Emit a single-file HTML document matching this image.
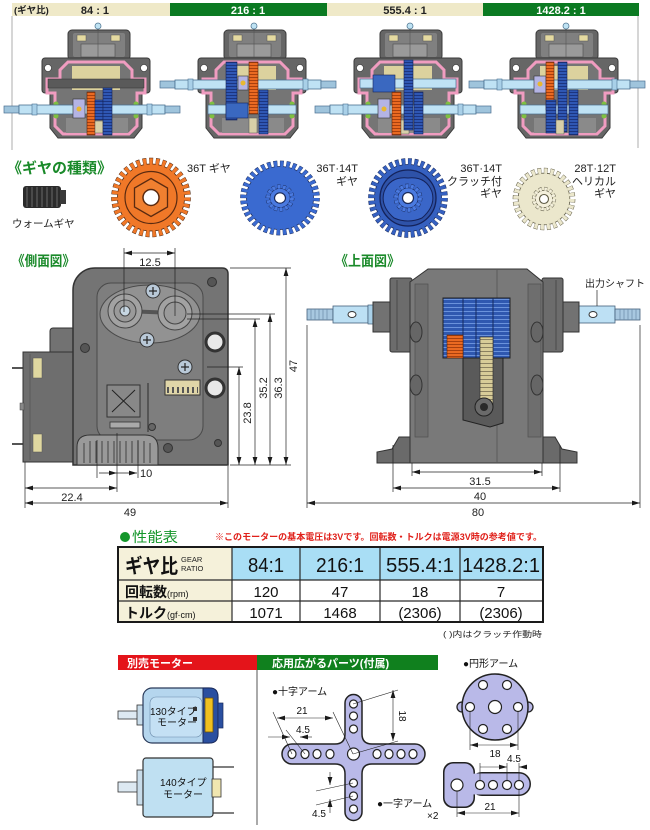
<!DOCTYPE html>
<html><head><meta charset="utf-8">
<style>
html,body{margin:0;padding:0;background:#fff;}
svg{display:block;}
text{font-family:"Liberation Sans","Noto Sans CJK JP",sans-serif;}
</style></head><body>
<svg width="650" height="830" viewBox="0 0 650 830" xmlns="http://www.w3.org/2000/svg">
<defs>
<marker id="ar" viewBox="0 0 10 6" refX="10" refY="3" markerWidth="8" markerHeight="4.8" markerUnits="userSpaceOnUse" orient="auto-start-reverse"><path d="M0,0 L10,3 L0,6 z" fill="#1a1a1a"/></marker>
<pattern id="pb" width="6" height="3" patternUnits="userSpaceOnUse"><rect width="6" height="3" fill="#2f57b4"/><rect y="2" width="6" height="1" fill="#1c3580"/></pattern>
<pattern id="po" width="6" height="3" patternUnits="userSpaceOnUse"><rect width="6" height="3" fill="#ea6a22"/><rect y="2" width="6" height="1" fill="#a8400e"/></pattern>
<pattern id="pb2" width="6" height="4" patternUnits="userSpaceOnUse"><rect width="6" height="4" fill="#2f58b0"/><rect y="3" width="6" height="1" fill="#6a92dc"/></pattern>
<pattern id="pbe" width="6" height="4" patternUnits="userSpaceOnUse"><rect width="6" height="4" fill="#d8cc98"/><rect y="3" width="6" height="1" fill="#8a8060"/></pattern>
<g id="box">
 <line x1="0" y1="28" x2="0" y2="31" stroke="#444"/>
 <circle cx="0" cy="26" r="3" fill="#bfe3f4" stroke="#557a95" stroke-width="0.8"/>
 <rect x="-30" y="30" width="62" height="30" rx="4" fill="#666" stroke="#3a3a3a"/>
 <rect x="-25" y="33" width="52" height="24" rx="2" fill="#808080"/>
 <rect x="-21" y="35" width="9" height="6" fill="#e4d9a0" stroke="#555" stroke-width="0.5"/>
 <rect x="13" y="35" width="9" height="6" fill="#e4d9a0" stroke="#555" stroke-width="0.5"/>
 <rect x="-17" y="44" width="34" height="13" fill="#9a9a9a" stroke="#555" stroke-width="0.7"/>
 <line x1="0" y1="31" x2="0" y2="60" stroke="#555" stroke-width="0.6"/>
 <rect x="-56" y="58" width="108" height="35" rx="3" fill="#666" stroke="#3a3a3a"/>
 <path d="M-48,92 L44,92 L44,128 L36,138 L-40,138 L-48,128 Z" fill="#666" stroke="#3a3a3a"/>
 <path d="M-30,62 L26,62 L34,70 L34,79 L47,79 L47,93 L39,93 L39,126 L31,134 L-35,134 L-43,126 L-43,93 L-51,93 L-51,79 L-38,79 L-38,70 Z" fill="#757575" stroke="#f09cc0" stroke-width="3"/>
 <circle cx="-50" cy="68" r="3.5" fill="#fff" stroke="#333" stroke-width="0.6"/>
 <circle cx="46" cy="68" r="3.5" fill="#fff" stroke="#333" stroke-width="0.6"/>
 <rect x="-26" y="66" width="48" height="24" fill="#dcd29e"/>
 <rect x="-32" y="118" width="62" height="15" fill="#8a8a8a"/>
 <circle cx="-42" cy="104" r="2.5" fill="#7fc040"/>
 <circle cx="-42" cy="116" r="2.5" fill="#7fc040"/>
 <circle cx="38" cy="104" r="2.5" fill="#7fc040"/>
 <circle cx="38" cy="116" r="2.5" fill="#7fc040"/>
</g>
<g id="shaft">
 <rect x="0" y="1" width="15" height="7" fill="#9fc4dc" stroke="#4a7090" stroke-width="0.7"/>
 <rect x="15" y="0" width="146" height="9" fill="#bfe2f4" stroke="#4a7090" stroke-width="0.8"/>
 <rect x="28" y="-1" width="5" height="11" fill="#a9d0e8" stroke="#4a7090" stroke-width="0.6"/>
 <rect x="143" y="-1" width="5" height="11" fill="#a9d0e8" stroke="#4a7090" stroke-width="0.6"/>
 <rect x="161" y="1" width="15" height="7" fill="#9fc4dc" stroke="#4a7090" stroke-width="0.7"/>
</g>
</defs>

<!-- ===== Header ===== -->
<rect x="12" y="3" width="158" height="13" fill="#efe9c8"/>
<rect x="170" y="3" width="157" height="13" fill="#0b7a22"/>
<rect x="327" y="3" width="156" height="13" fill="#efe9c8"/>
<rect x="483" y="3" width="156" height="13" fill="#0b7a22"/>
<text x="14" y="13.5" font-size="9.5" font-weight="bold" fill="#222">(ギヤ比)</text>
<text x="95" y="14" font-size="11" font-weight="bold" fill="#222" text-anchor="middle">84 : 1</text>
<text x="248" y="14" font-size="11" font-weight="bold" fill="#fff" text-anchor="middle">216 : 1</text>
<text x="405" y="14" font-size="11" font-weight="bold" fill="#222" text-anchor="middle">555.4 : 1</text>
<text x="561" y="14" font-size="11" font-weight="bold" fill="#fff" text-anchor="middle">1428.2 : 1</text>
<line x1="12" y1="16" x2="12" y2="150" stroke="#999" stroke-width="0.8"/>
<line x1="638" y1="16" x2="638" y2="148" stroke="#999" stroke-width="0.8"/>

<!-- ===== Gearboxes ===== -->
<use href="#box" x="98"/>
<use href="#box" x="254"/>
<use href="#box" x="410"/>
<use href="#box" x="566"/>

<g transform="translate(98,0)">
 <rect x="-50" y="79" width="96" height="9" fill="#5a5a5a" stroke="#333" stroke-width="0.5"/>
</g>
<use href="#shaft" x="4" y="105"/>
<g transform="translate(98,0)">
 <rect x="-25" y="99" width="12" height="19" fill="#b4b4e4" stroke="#333" stroke-width="0.6"/>
 <circle cx="-19" cy="109" r="2.5" fill="#e8b830"/>
 <rect x="-11" y="92" width="8" height="43" fill="url(#po)" stroke="#5a2810" stroke-width="0.6"/>
 <rect x="-3" y="100" width="8" height="20" fill="url(#pb)" stroke="#14245a" stroke-width="0.5"/>
 <rect x="-3" y="121" width="8" height="12" fill="#d8d0a8" stroke="#555" stroke-width="0.5"/>
 <rect x="5" y="88" width="9" height="47" fill="url(#pb)" stroke="#14245a" stroke-width="0.6"/>
</g>

<g transform="translate(254,0)">
 <rect x="-46" y="105" width="88" height="9" fill="#bfe2f4" stroke="#4a7090" stroke-width="0.7"/>
</g>
<use href="#shaft" x="160" y="80"/>
<g transform="translate(254,0)">
 <rect x="-28" y="62" width="11" height="58" fill="url(#pb)" stroke="#14245a" stroke-width="0.6"/>
 <rect x="-28" y="103" width="22" height="15" fill="#3a68c0" stroke="#14245a" stroke-width="0.6"/>
 <rect x="-16" y="76" width="10" height="14" fill="#b4b4e4" stroke="#333" stroke-width="0.6"/>
 <circle cx="-11" cy="83" r="2.5" fill="#e8b830"/>
 <rect x="-5" y="62" width="9" height="52" fill="url(#po)" stroke="#5a2810" stroke-width="0.6"/>
 <rect x="-5" y="118" width="8" height="15" fill="#d8d0a8" stroke="#555" stroke-width="0.5"/>
 <rect x="5" y="90" width="9" height="44" fill="url(#pb)" stroke="#14245a" stroke-width="0.6"/>
</g>

<g transform="translate(410,0)">
 <rect x="-50" y="79" width="96" height="9" fill="#bfe2f4" stroke="#4a7090" stroke-width="0.7"/>
 <rect x="-37" y="75" width="22" height="17" fill="#3a68c0" stroke="#14245a" stroke-width="0.6"/>
</g>
<use href="#shaft" x="315" y="105"/>
<g transform="translate(410,0)">
 <rect x="-32" y="99" width="12" height="19" fill="#b4b4e4" stroke="#333" stroke-width="0.6"/>
 <circle cx="-26" cy="109" r="2.5" fill="#e8b830"/>
 <rect x="-18" y="92" width="9" height="43" fill="url(#po)" stroke="#5a2810" stroke-width="0.6"/>
 <rect x="-9" y="120" width="8" height="14" fill="#d8d0a8" stroke="#555" stroke-width="0.5"/>
 <rect x="-6" y="60" width="9" height="70" fill="url(#pb)" stroke="#14245a" stroke-width="0.6"/>
 <rect x="4" y="92" width="9" height="42" fill="url(#pb)" stroke="#14245a" stroke-width="0.6"/>
</g>

<g transform="translate(566,0)">
 <rect x="-46" y="105" width="88" height="9" fill="#bfe2f4" stroke="#4a7090" stroke-width="0.7"/>
</g>
<use href="#shaft" x="469" y="80"/>
<g transform="translate(566,0)">
 <rect x="-32" y="76" width="12" height="17" fill="#b4b4e4" stroke="#333" stroke-width="0.6"/>
 <circle cx="-26" cy="84" r="2.5" fill="#e8b830"/>
 <rect x="-20" y="62" width="8" height="48" fill="url(#po)" stroke="#5a2810" stroke-width="0.6"/>
 <rect x="-20" y="100" width="10" height="33" fill="url(#pb)" stroke="#14245a" stroke-width="0.6"/>
 <rect x="-8" y="62" width="9" height="70" fill="url(#pb)" stroke="#14245a" stroke-width="0.6"/>
 <rect x="-10" y="120" width="8" height="14" fill="#d8d0a8" stroke="#555" stroke-width="0.5"/>
 <rect x="3" y="90" width="9" height="45" fill="url(#pb)" stroke="#14245a" stroke-width="0.6"/>
</g>

<!-- ===== Gear types ===== -->
<text x="7" y="173" font-size="15" font-weight="bold" fill="#1a8a2a" textLength="105" lengthAdjust="spacingAndGlyphs">《ギヤの種類》</text>
<rect x="23" y="186" width="38" height="22" rx="3" fill="#2b2b2b"/>
<rect x="60" y="190" width="6" height="14" fill="#3a3a3a"/>
<g stroke="#6a6a6a" stroke-width="1">
<line x1="27" y1="187" x2="27" y2="207"/><line x1="32" y1="187" x2="32" y2="207"/><line x1="37" y1="187" x2="37" y2="207"/><line x1="42" y1="187" x2="42" y2="207"/><line x1="47" y1="187" x2="47" y2="207"/><line x1="52" y1="187" x2="52" y2="207"/><line x1="57" y1="187" x2="57" y2="207"/>
</g>
<text x="12" y="227" font-size="10.5" fill="#222">ウォームギヤ</text>

<g transform="translate(151,197.5)">
 <circle r="33.5" fill="#f07828" stroke="#4a2510" stroke-width="0.8"/>
 <circle r="36" fill="none" stroke="#4a2510" stroke-width="7.6" stroke-dasharray="3.829 2.629" stroke-dashoffset="0.3"/>
 <circle r="36" fill="none" stroke="#f07828" stroke-width="6.6" stroke-dasharray="3.229 3.229"/>
 <circle r="33" fill="#f07828"/>
 <circle r="26" fill="none" stroke="#5a2a10" stroke-width="1.2"/>
 <polygon points="0,-19 16.5,-9.5 16.5,9.5 0,19 -16.5,9.5 -16.5,-9.5" fill="#f08030" stroke="#5a2a10" stroke-width="1.3"/>
 <circle r="8" fill="#fff" stroke="#5a2a10" stroke-width="1.5"/>
</g>
<text x="187" y="172" font-size="11" fill="#222">36T ギヤ</text>

<g transform="translate(280,198) scale(1,0.94)">
 <circle r="33.5" fill="#3a6ad0" stroke="#1a2a5a" stroke-width="0.8"/>
 <circle r="36" fill="none" stroke="#1a2a5a" stroke-width="7.6" stroke-dasharray="3.741 2.541" stroke-dashoffset="0.3"/>
 <circle r="36" fill="none" stroke="#3a6ad0" stroke-width="6.6" stroke-dasharray="3.141 3.141"/>
 <circle r="33" fill="#3a6ad0"/>
 <circle r="10" fill="#4a7ae0" stroke="#1a2a5a" stroke-width="1"/>
 <circle r="12" fill="none" stroke="#1a2a5a" stroke-width="4.8" stroke-dasharray="3.09 2.29" stroke-dashoffset="0.2"/>
 <circle r="12" fill="none" stroke="#4a7ae0" stroke-width="3.8" stroke-dasharray="2.69 2.69"/>
 <circle r="9.8" fill="#4a7ae0"/>
 <circle r="5.5" fill="#fff" stroke="#1a2a5a" stroke-width="1.2"/>
</g>
<text x="358" y="172" font-size="11" fill="#222" text-anchor="end">36T·14T</text>
<text x="358" y="185" font-size="11" fill="#222" text-anchor="end">ギヤ</text>

<g transform="translate(408,198)">
 <circle r="33.5" fill="#3560c0" stroke="#1a2a5a" stroke-width="0.8"/>
 <circle r="36" fill="none" stroke="#1a2a5a" stroke-width="7.6" stroke-dasharray="3.741 2.541" stroke-dashoffset="0.3"/>
 <circle r="36" fill="none" stroke="#3560c0" stroke-width="6.6" stroke-dasharray="3.141 3.141"/>
 <circle r="33" fill="#3560c0"/>
 <circle r="28" fill="#2e52a8" stroke="#14225a" stroke-width="1.3"/>
 <path d="M-24,-6 Q-18,-22 0,-20 Q18,-22 24,-6 Q28,8 14,20 Q0,26 -14,20 Q-28,8 -24,-6 Z" fill="#3a66c8" stroke="#14225a" stroke-width="1"/>
 <circle r="10" fill="#4a7ae0" stroke="#1a2a5a" stroke-width="1"/>
 <circle r="12" fill="none" stroke="#1a2a5a" stroke-width="4.8" stroke-dasharray="3.09 2.29" stroke-dashoffset="0.2"/>
 <circle r="12" fill="none" stroke="#4a7ae0" stroke-width="3.8" stroke-dasharray="2.69 2.69"/>
 <circle r="9.8" fill="#4a7ae0"/>
 <circle r="5.5" fill="#fff" stroke="#1a2a5a" stroke-width="1.2"/>
</g>
<text x="502" y="172" font-size="11" fill="#222" text-anchor="end">36T·14T</text>
<text x="502" y="185" font-size="11" fill="#222" text-anchor="end">クラッチ付</text>
<text x="502" y="197" font-size="11" fill="#222" text-anchor="end">ギヤ</text>

<g transform="translate(544,199)">
 <circle r="25.8" fill="#ebe7cc" stroke="#5e5a44" stroke-width="0.8"/>
 <circle r="28" fill="none" stroke="#5e5a44" stroke-width="6.6" stroke-dasharray="3.741 2.541" stroke-dashoffset="0.3"/>
 <circle r="28" fill="none" stroke="#ebe7cc" stroke-width="5.6" stroke-dasharray="3.141 3.141"/>
 <circle r="25.3" fill="#ebe7cc"/>
 <circle r="8.5" fill="#f4f0dc" stroke="#5e5a44" stroke-width="1"/>
 <circle r="10" fill="none" stroke="#5e5a44" stroke-width="4.2" stroke-dasharray="3.02 2.22" stroke-dashoffset="0.2"/>
 <circle r="10" fill="none" stroke="#f4f0dc" stroke-width="3.2" stroke-dasharray="2.62 2.62"/>
 <circle r="8.3" fill="#f4f0dc"/>
 <circle r="4.5" fill="#fff" stroke="#5e5a44" stroke-width="1.1"/>
</g>
<text x="616" y="172" font-size="11" fill="#222" text-anchor="end">28T·12T</text>
<text x="616" y="185" font-size="11" fill="#222" text-anchor="end">ヘリカル</text>
<text x="616" y="197" font-size="11" fill="#222" text-anchor="end">ギヤ</text>

<!-- ===== Side view ===== -->
<text x="12" y="266" font-size="14" font-weight="bold" fill="#1a8a2a" textLength="63" lengthAdjust="spacingAndGlyphs">《側面図》</text>
<line x1="12" y1="368" x2="24" y2="368" stroke="#555" stroke-width="2"/>
<line x1="12" y1="444" x2="24" y2="444" stroke="#555" stroke-width="2"/>
<rect x="50" y="328" width="25" height="30" rx="3" fill="#727272" stroke="#333"/>
<rect x="23" y="352" width="52" height="110" fill="#6e6e6e" stroke="#333"/>
<line x1="30" y1="354" x2="30" y2="460" stroke="#555" stroke-width="0.8"/>
<rect x="33" y="358" width="9" height="20" fill="#e0d8a0" stroke="#555" stroke-width="0.5"/>
<rect x="33" y="434" width="9" height="18" fill="#e0d8a0" stroke="#555" stroke-width="0.5"/>
<rect x="20" y="403" width="4" height="7" fill="#888" stroke="#444" stroke-width="0.5"/>
<path d="M95,268 L222,268 Q228,268 228,274 L228,465 L73,465 L73,290 A22,22 0 0 1 95,268 Z" fill="#747474" stroke="#333" stroke-width="1.5"/>
<rect x="97" y="283" width="106" height="157" rx="14" fill="#7e7e7e" stroke="#4a4a4a"/>
<ellipse cx="150" cy="314" rx="50" ry="29" fill="#929292" stroke="#4a4a4a"/>
<line x1="125" y1="311" x2="175" y2="313" stroke="#555" stroke-width="4"/>
<circle cx="125" cy="311" r="17" fill="#a2a2a2" stroke="#444"/>
<circle cx="125" cy="311" r="11" fill="#9a9a9a" stroke="#444"/>
<circle cx="125" cy="311" r="5" fill="#c6d6e2" stroke="#444"/>
<circle cx="175" cy="313" r="17" fill="#a2a2a2" stroke="#444"/>
<circle cx="175" cy="313" r="11" fill="#9a9a9a" stroke="#444"/>
<g fill="#b9c9d8" stroke="#333">
<circle cx="153" cy="291" r="7"/><circle cx="147" cy="340" r="7"/><circle cx="185" cy="367" r="7"/>
</g>
<g stroke="#222" stroke-width="1.2">
<line x1="149" y1="291" x2="157" y2="291"/><line x1="153" y1="287" x2="153" y2="295"/>
<line x1="143" y1="340" x2="151" y2="340"/><line x1="147" y1="336" x2="147" y2="344"/>
<line x1="181" y1="367" x2="189" y2="367"/><line x1="185" y1="363" x2="185" y2="371"/>
</g>
<circle cx="215" cy="342" r="9" fill="#e8e8e8" stroke="#333" stroke-width="3"/>
<circle cx="215" cy="388" r="9" fill="#e8e8e8" stroke="#333" stroke-width="3"/>
<circle cx="212" cy="282" r="4.5" fill="#555" stroke="#333"/>
<circle cx="85" cy="348" r="4.5" fill="#555" stroke="#333"/>
<circle cx="168" cy="448" r="4.5" fill="#555" stroke="#333"/>
<circle cx="218" cy="443" r="3.5" fill="#555" stroke="#333"/>
<rect x="107" y="385" width="33" height="32" fill="#888" stroke="#333"/>
<line x1="112" y1="390" x2="135" y2="412" stroke="#222"/><line x1="135" y1="390" x2="112" y2="412" stroke="#222"/>
<rect x="110" y="422" width="30" height="6" fill="#aaa" stroke="#333" stroke-width="0.8"/>
<line x1="148" y1="383" x2="148" y2="432" stroke="#555" stroke-width="2"/>
<circle cx="152" cy="427" r="3.5" fill="#666" stroke="#333"/>
<rect x="165" y="380" width="35" height="15" fill="#e0d6a8" stroke="#333"/>
<line x1="167" y1="390" x2="198" y2="390" stroke="#555" stroke-width="6" stroke-dasharray="2 3"/>
<path d="M77,465 L77,447 Q77,435 90,435 L145,435 Q158,435 158,448 L158,465 Z" fill="#999" stroke="#333"/>
<g stroke="#444" stroke-width="1">
<line x1="84" y1="443" x2="84" y2="463"/><line x1="90" y1="441" x2="90" y2="463"/><line x1="96" y1="441" x2="96" y2="463"/><line x1="102" y1="441" x2="102" y2="463"/><line x1="108" y1="441" x2="108" y2="463"/><line x1="114" y1="441" x2="114" y2="463"/><line x1="120" y1="441" x2="120" y2="463"/><line x1="126" y1="441" x2="126" y2="463"/><line x1="132" y1="441" x2="132" y2="463"/><line x1="138" y1="441" x2="138" y2="463"/><line x1="144" y1="441" x2="144" y2="463"/><line x1="150" y1="443" x2="150" y2="463"/>
</g>
<g stroke="#222" stroke-width="0.7" fill="none">
<line x1="124" y1="248" x2="124" y2="312"/>
<line x1="175" y1="248" x2="175" y2="316"/>
<line x1="124" y1="253" x2="175" y2="253" marker-start="url(#ar)" marker-end="url(#ar)"/>
<line x1="230" y1="268" x2="291" y2="268"/>
<line x1="187" y1="314" x2="275" y2="314"/>
<line x1="187" y1="319" x2="260" y2="319"/>
<line x1="207" y1="367" x2="243" y2="367"/>
<line x1="230" y1="465" x2="291" y2="465"/>
<line x1="239" y1="367" x2="239" y2="465" marker-start="url(#ar)" marker-end="url(#ar)"/>
<line x1="255" y1="319" x2="255" y2="465" marker-start="url(#ar)" marker-end="url(#ar)"/>
<line x1="270" y1="314" x2="270" y2="465" marker-start="url(#ar)" marker-end="url(#ar)"/>
<line x1="286" y1="268" x2="286" y2="465" marker-start="url(#ar)" marker-end="url(#ar)"/>
<line x1="97" y1="440" x2="97" y2="478"/>
<line x1="138" y1="440" x2="138" y2="478"/>
<line x1="99" y1="473" x2="117" y2="473" marker-end="url(#ar)"/>
<line x1="117" y1="473" x2="137" y2="473" marker-end="url(#ar)"/>
<line x1="25" y1="462" x2="25" y2="508"/>
<line x1="228" y1="466" x2="228" y2="508"/>
<line x1="117" y1="433" x2="117" y2="492"/>
<line x1="25" y1="488" x2="117" y2="488" marker-start="url(#ar)" marker-end="url(#ar)"/>
<line x1="25" y1="503" x2="228" y2="503" marker-start="url(#ar)" marker-end="url(#ar)"/>
</g>
<g font-size="11" fill="#222">
<text x="150" y="266" text-anchor="middle">12.5</text>
<text x="140" y="477">10</text>
<text x="72" y="501" text-anchor="middle">22.4</text>
<text x="130" y="516" text-anchor="middle">49</text>
<text transform="translate(251,413) rotate(-90)" text-anchor="middle">23.8</text>
<text transform="translate(267,388) rotate(-90)" text-anchor="middle">35.2</text>
<text transform="translate(282,388) rotate(-90)" text-anchor="middle">36.3</text>
<text transform="translate(297,366) rotate(-90)" text-anchor="middle">47</text>
</g>

<!-- ===== Top view ===== -->
<text x="335" y="266" font-size="14" font-weight="bold" fill="#1a8a2a" textLength="65" lengthAdjust="spacingAndGlyphs">《上面図》</text>
<rect x="307" y="309" width="26" height="11" fill="#a8c8e0" stroke="#44607a" stroke-width="0.8"/>
<g stroke="#6a8aa8" stroke-width="0.7"><line x1="311" y1="309" x2="311" y2="320"/><line x1="315" y1="309" x2="315" y2="320"/><line x1="319" y1="309" x2="319" y2="320"/><line x1="323" y1="309" x2="323" y2="320"/><line x1="327" y1="309" x2="327" y2="320"/></g>
<rect x="333" y="306" width="35" height="17" fill="#bde0f4" stroke="#44607a" stroke-width="0.8"/>
<ellipse cx="352" cy="314.5" rx="4" ry="3" fill="#fff" stroke="#333"/>
<rect x="368" y="305" width="6" height="19" fill="#a9d0e8" stroke="#44607a" stroke-width="0.7"/>
<rect x="578" y="306" width="37" height="17" fill="#bde0f4" stroke="#44607a" stroke-width="0.8"/>
<ellipse cx="593" cy="314.5" rx="4" ry="3" fill="#fff" stroke="#333"/>
<rect x="615" y="309" width="25" height="11" fill="#a8c8e0" stroke="#44607a" stroke-width="0.8"/>
<g stroke="#6a8aa8" stroke-width="0.7"><line x1="620" y1="309" x2="620" y2="320"/><line x1="624" y1="309" x2="624" y2="320"/><line x1="628" y1="309" x2="628" y2="320"/><line x1="632" y1="309" x2="632" y2="320"/><line x1="636" y1="309" x2="636" y2="320"/></g>
<rect x="373" y="302" width="19" height="30" fill="#727272" stroke="#333"/>
<rect x="562" y="302" width="17" height="30" fill="#727272" stroke="#333"/>
<rect x="390" y="278" width="22" height="74" rx="2" fill="#6c6c6c" stroke="#333"/>
<line x1="397" y1="280" x2="397" y2="350" stroke="#4a4a4a"/>
<rect x="542" y="278" width="21" height="74" rx="2" fill="#6c6c6c" stroke="#333"/>
<line x1="556" y1="280" x2="556" y2="350" stroke="#4a4a4a"/>
<path d="M428,269 L527,269 L543,282 L543,463 L410,463 L410,282 Z" fill="#797979" stroke="#333"/>
<rect x="415" y="284" width="13" height="153" fill="#6e6e6e" stroke="#4a4a4a" stroke-width="0.6"/>
<rect x="528" y="284" width="13" height="153" fill="#6e6e6e" stroke="#4a4a4a" stroke-width="0.6"/>
<line x1="497" y1="269" x2="497" y2="463" stroke="#555" stroke-width="0.8"/>
<ellipse cx="416" cy="332" rx="6" ry="10" fill="#666" stroke="#333"/>
<ellipse cx="416" cy="385" rx="6" ry="10" fill="#666" stroke="#333"/>
<ellipse cx="537" cy="332" rx="6" ry="10" fill="#666" stroke="#333"/>
<ellipse cx="537" cy="385" rx="6" ry="10" fill="#666" stroke="#333"/>
<path d="M463,358 L503,358 L503,423 L490,427 L463,420 Z" fill="#5a5a5a" stroke="#222"/>
<rect x="443" y="298" width="67" height="60" fill="url(#pb2)" stroke="#222"/>
<line x1="463" y1="298" x2="463" y2="358" stroke="#142a60"/>
<line x1="476" y1="298" x2="476" y2="358" stroke="#142a60"/>
<line x1="493" y1="298" x2="493" y2="358" stroke="#142a60"/>
<rect x="447" y="335" width="16" height="23" fill="url(#po)" stroke="#5a2810" stroke-width="0.6"/>
<rect x="480" y="337" width="13" height="70" fill="url(#pbe)" stroke="#333" stroke-width="0.7"/>
<circle cx="484" cy="407" r="9" fill="#6a6a6a" stroke="#222"/>
<circle cx="484" cy="407" r="4" fill="#2a2a2a"/>
<polygon points="377,463 377,452 392,449 399,437 410,437 410,463" fill="#6a6a6a" stroke="#333"/>
<polygon points="577,463 577,452 562,449 555,437 543,437 543,463" fill="#6a6a6a" stroke="#333"/>
<g stroke="#222" stroke-width="0.7" fill="none">
<line x1="597" y1="290" x2="597" y2="306"/>
<line x1="307" y1="325" x2="307" y2="508"/>
<line x1="640" y1="325" x2="640" y2="508"/>
<line x1="393" y1="445" x2="393" y2="492"/>
<line x1="560" y1="445" x2="560" y2="492"/>
<line x1="412" y1="463" x2="412" y2="476"/>
<line x1="542" y1="463" x2="542" y2="476"/>
<line x1="412" y1="472" x2="542" y2="472" marker-start="url(#ar)" marker-end="url(#ar)"/>
<line x1="393" y1="488" x2="560" y2="488" marker-start="url(#ar)" marker-end="url(#ar)"/>
<line x1="307" y1="503" x2="640" y2="503" marker-start="url(#ar)" marker-end="url(#ar)"/>
</g>
<g font-size="11" fill="#222">
<text x="480" y="485" text-anchor="middle">31.5</text>
<text x="480" y="500" text-anchor="middle">40</text>
<text x="478" y="516" text-anchor="middle">80</text>
<text x="585" y="287" font-size="10">出力シャフト</text>
</g>

<!-- ===== Performance table ===== -->
<circle cx="125" cy="537" r="5" fill="#14962a"/>
<text x="132" y="542" font-size="14" fill="#14962a" textLength="46" lengthAdjust="spacingAndGlyphs">性能表</text>
<text x="215" y="540" font-size="9" font-weight="bold" fill="#e0201a" textLength="327" lengthAdjust="spacingAndGlyphs">※このモーターの基本電圧は3Vです。回転数・トルクは電源3V時の参考値です。</text>
<rect x="118" y="547" width="114" height="75" fill="#f5f1da"/>
<rect x="232" y="547" width="311" height="33" fill="#a9def5"/>
<rect x="232" y="580" width="311" height="42" fill="#fff"/>
<g stroke="#2a2a2a" stroke-width="1.2">
<line x1="118" y1="580" x2="543" y2="580"/>
<line x1="118" y1="601" x2="543" y2="601"/>
<line x1="232" y1="547" x2="232" y2="622"/>
<line x1="300" y1="547" x2="300" y2="622"/>
<line x1="380" y1="547" x2="380" y2="622"/>
<line x1="460" y1="547" x2="460" y2="622"/>
</g>
<rect x="118" y="547" width="425" height="75" fill="none" stroke="#1a1a1a" stroke-width="2"/>
<text x="125" y="573" font-size="20" font-weight="bold" fill="#111" textLength="53" lengthAdjust="spacingAndGlyphs">ギヤ比</text>
<text x="181" y="562" font-size="7.5" fill="#222">GEAR</text>
<text x="181" y="571" font-size="7.5" fill="#222">RATIO</text>
<g font-size="20" fill="#111" text-anchor="middle">
<text x="266" y="572" textLength="36" lengthAdjust="spacingAndGlyphs">84:1</text>
<text x="340" y="572" textLength="48" lengthAdjust="spacingAndGlyphs">216:1</text>
<text x="420" y="572" textLength="68" lengthAdjust="spacingAndGlyphs">555.4:1</text>
<text x="501" y="572" textLength="78" lengthAdjust="spacingAndGlyphs">1428.2:1</text>
</g>
<text x="125" y="597" font-size="14" font-weight="bold" fill="#111">回転数<tspan font-size="9" font-weight="normal">(rpm)</tspan></text>
<text x="125" y="618" font-size="14" font-weight="bold" fill="#111">トルク<tspan font-size="9" font-weight="normal">(gf·cm)</tspan></text>
<g font-size="15" fill="#111" text-anchor="middle">
<text x="266" y="597">120</text>
<text x="340" y="597">47</text>
<text x="420" y="597">18</text>
<text x="501" y="597">7</text>
<text x="266" y="618">1071</text>
<text x="340" y="618">1468</text>
<text x="420" y="618">(2306)</text>
<text x="501" y="618">(2306)</text>
</g>
<text x="443" y="637" font-size="8" fill="#222" textLength="99" lengthAdjust="spacingAndGlyphs">( )内はクラッチ作動時</text>

<!-- ===== Bottom ===== -->
<rect x="118" y="655" width="139" height="15" fill="#e4141a"/>
<text x="127" y="667" font-size="11" font-weight="bold" fill="#fff">別売モーター</text>
<rect x="257" y="655" width="181" height="15" fill="#10801e"/>
<text x="272" y="667" font-size="11" font-weight="bold" fill="#fff">応用広がるパーツ(付属)</text>
<line x1="257" y1="670" x2="257" y2="825" stroke="#555" stroke-width="1"/>

<rect x="118" y="711" width="22" height="8" fill="#dde9f2" stroke="#333" stroke-width="0.8"/>
<rect x="137" y="705" width="9" height="20" fill="#c8dcea" stroke="#333" stroke-width="0.8"/>
<rect x="143" y="688" width="75" height="55" rx="9" fill="#b5d6ee" stroke="#2a3a5a" stroke-width="1.2"/>
<rect x="150" y="697" width="52" height="40" rx="6" fill="#c4e0f4" stroke="#6a8aaa" stroke-width="0.6"/>
<path d="M203,688 L210,688 Q218,688 218,697 L218,734 Q218,743 210,743 L203,743 Z" fill="#2a4fa0" stroke="#1a2a5a"/>
<rect x="218" y="703" width="5" height="25" fill="#2a4fa0" stroke="#1a2a5a" stroke-width="0.7"/>
<rect x="205" y="698" width="8" height="34" fill="#f0c020" stroke="#6a5010" stroke-width="0.8"/>
<text x="150" y="715" font-size="10" fill="#111">130タイプ</text>
<text x="157" y="726" font-size="10" fill="#111">モーター</text>
<rect x="193" y="707" width="4" height="4" fill="#333"/>
<rect x="193" y="717" width="4" height="4" fill="#333"/>

<rect x="118" y="782" width="22" height="10" fill="#dde9f2" stroke="#333" stroke-width="0.8"/>
<rect x="137" y="770" width="9" height="35" fill="#c8dcea" stroke="#333" stroke-width="0.8"/>
<line x1="213" y1="767" x2="234" y2="767" stroke="#333" stroke-width="1.2"/>
<line x1="213" y1="813" x2="234" y2="813" stroke="#333" stroke-width="1.2"/>
<rect x="143" y="758" width="70" height="59" rx="3" fill="#bfe0f2" stroke="#333" stroke-width="1.2"/>
<rect x="212" y="779" width="9" height="18" fill="#f0e6b0" stroke="#333" stroke-width="0.8"/>
<text x="160" y="786" font-size="10" fill="#111">140タイプ</text>
<text x="163" y="798" font-size="10" fill="#111">モーター</text>

<text x="272" y="695" font-size="10" fill="#111">●十字アーム</text>
<path d="M345,703 A8.5,8.5 0 0 1 362,703 L362,734 Q362,744 372,744 L415,744 A10,10 0 0 1 415,764 L372,764 Q362,764 362,774 L362,812 A8.5,8.5 0 0 1 345,812 L345,774 Q345,764 335,764 L292,764 A10,10 0 0 1 292,744 L335,744 Q345,744 345,734 Z" fill="#b9b9e8" stroke="#222" stroke-width="1.5"/>
<g fill="#fff" stroke="#222" stroke-width="1.2">
<ellipse cx="292" cy="754" rx="4" ry="4.5"/><ellipse cx="305" cy="754" rx="4" ry="4.5"/><ellipse cx="317" cy="754" rx="4" ry="4.5"/><ellipse cx="330" cy="754" rx="4" ry="4.5"/>
<ellipse cx="377" cy="754" rx="4" ry="4.5"/><ellipse cx="389" cy="754" rx="4" ry="4.5"/><ellipse cx="401" cy="754" rx="4" ry="4.5"/><ellipse cx="413" cy="754" rx="4" ry="4.5"/>
<circle cx="353.5" cy="754" r="6"/>
<ellipse cx="353.5" cy="704" rx="4" ry="4"/><ellipse cx="353.5" cy="716" rx="4" ry="4"/><ellipse cx="353.5" cy="729" rx="4" ry="4"/>
<ellipse cx="353.5" cy="783" rx="4" ry="4"/><ellipse cx="353.5" cy="796" rx="4" ry="4"/><ellipse cx="353.5" cy="809" rx="4" ry="4"/>
</g>
<g stroke="#222" stroke-width="0.6" fill="none">
<line x1="292" y1="754" x2="273" y2="712"/>
<line x1="305" y1="754" x2="286" y2="730"/>
<line x1="353" y1="754" x2="333" y2="712"/>
<line x1="277" y1="718" x2="333" y2="718" marker-start="url(#ar)" marker-end="url(#ar)"/>
<line x1="268" y1="737" x2="290" y2="737" marker-end="url(#ar)"/>
<line x1="312" y1="737" x2="300" y2="737" marker-end="url(#ar)"/>
<line x1="353" y1="704" x2="398" y2="690"/>
<line x1="353" y1="754" x2="398" y2="741"/>
<line x1="393" y1="690" x2="393" y2="741" marker-start="url(#ar)" marker-end="url(#ar)"/>
<line x1="353" y1="783" x2="316" y2="791"/>
<line x1="353" y1="796" x2="316" y2="805"/>
<line x1="330" y1="772" x2="330" y2="785" marker-end="url(#ar)"/>
<line x1="330" y1="813" x2="330" y2="799" marker-end="url(#ar)"/>
</g>
<g font-size="10" fill="#111">
<text x="302" y="714" text-anchor="middle">21</text>
<text x="303" y="733" text-anchor="middle">4.5</text>
<text transform="translate(399,716) rotate(90)" text-anchor="middle">18</text>
<text x="319" y="817" text-anchor="middle">4.5</text>
<text x="377" y="807">●一字アーム</text>
<text x="427" y="819">×2</text>
</g>

<text x="463" y="667" font-size="10" fill="#111">●円形アーム</text>
<circle cx="462" cy="707" r="5" fill="#b9b9e8" stroke="#222" stroke-width="1.3"/>
<circle cx="528" cy="707" r="5" fill="#b9b9e8" stroke="#222" stroke-width="1.3"/>
<circle cx="495" cy="707" r="33" fill="#b9b9e8" stroke="#222" stroke-width="1.5"/>
<g fill="#fff" stroke="#222" stroke-width="1.2">
<circle cx="483" cy="685" r="4.5"/><circle cx="507" cy="685" r="4.5"/>
<circle cx="470" cy="707" r="4.5"/><circle cx="495" cy="707" r="6.5"/><circle cx="518" cy="707" r="4.5"/>
<circle cx="483" cy="729" r="4.5"/><circle cx="507" cy="729" r="4.5"/>
</g>
<g stroke="#222" stroke-width="0.6" fill="none">
<line x1="470" y1="711" x2="470" y2="750"/>
<line x1="518" y1="711" x2="518" y2="750"/>
<line x1="470" y1="745" x2="518" y2="745" marker-start="url(#ar)" marker-end="url(#ar)"/>
</g>
<text x="495" y="757" font-size="10" fill="#111" text-anchor="middle">18</text>

<rect x="443" y="762" width="32" height="46" rx="10" fill="#222"/>
<rect x="470" y="772" width="61" height="24" rx="12" fill="#222"/>
<rect x="444.5" y="763.5" width="29" height="43" rx="9" fill="#b9b9e8"/>
<rect x="465" y="773.5" width="64.5" height="21" rx="10.5" fill="#b9b9e8"/>
<g fill="#fff" stroke="#222" stroke-width="1.2">
<circle cx="457" cy="785" r="6"/>
<circle cx="480" cy="785" r="4.5"/><circle cx="493" cy="785" r="4.5"/><circle cx="507" cy="785" r="4.5"/><circle cx="519" cy="785" r="4.5"/>
</g>
<g stroke="#222" stroke-width="0.6" fill="none">
<line x1="480" y1="781" x2="480" y2="763"/>
<line x1="507" y1="781" x2="507" y2="763"/>
<line x1="519" y1="781" x2="519" y2="763"/>
<line x1="480" y1="767" x2="507" y2="767" marker-end="url(#ar)"/>
<line x1="525" y1="767" x2="519" y2="767" marker-end="url(#ar)"/>
<line x1="457" y1="791" x2="457" y2="817"/>
<line x1="519" y1="790" x2="519" y2="817"/>
<line x1="457" y1="813" x2="519" y2="813" marker-start="url(#ar)" marker-end="url(#ar)"/>
</g>
<text x="514" y="762" font-size="10" fill="#111" text-anchor="middle">4.5</text>
<text x="490" y="810" font-size="10" fill="#111" text-anchor="middle">21</text>
</svg>
</body></html>
